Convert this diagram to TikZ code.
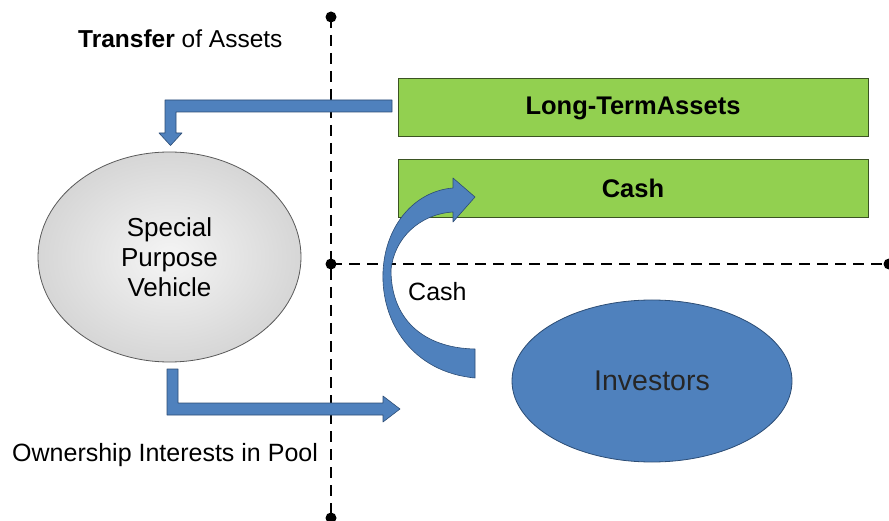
\documentclass[tikz,border=0pt]{standalone}
\usepackage{fontspec}
\setmainfont{Liberation Sans}
\usetikzlibrary{shapes.geometric}
\definecolor{boxgreen}{HTML}{92D050}
\definecolor{boxedge}{HTML}{3B5323}
\definecolor{arrblue}{HTML}{4F81BD}
\definecolor{arredge}{HTML}{2C4D75}
\definecolor{spvgray}{HTML}{D6D6D6}
\tikzset{
  greenbox/.style={draw=boxedge, line width=1pt, fill=boxgreen, minimum width=470pt, minimum height=58pt, inner sep=0pt, font=\fontsize{25.5}{30}\selectfont\bfseries},
  blockarrow/.style={fill=arrblue, draw=arredge, line width=0.6pt, line join=round},
  divider/.style={line width=2.4pt, dash pattern=on 11pt off 7pt},
  dotmark/.style={fill=black, draw=none},
  lbl/.style={font=\fontsize{25}{30}\selectfont, inner sep=0pt},
}
\begin{document}
\begin{tikzpicture}[x=1pt,y=-1pt]
\useasboundingbox (0,0) rectangle (889,521);
% dividers
\coordinate (vtop) at (331,17);
\coordinate (vbot) at (331,518);
\coordinate (hmid) at (331,264);
\coordinate (hright) at (889,264);
\draw[divider] (vtop) -- (vbot);
\draw[divider] (hmid) -- (hright);
\fill[dotmark] (vtop) circle (5.5);
\fill[dotmark] (vbot) circle (5.5);
\fill[dotmark] (hmid) circle (5.5);
\fill[dotmark] (hright) circle (5.5);
% green boxes
\node[greenbox] (lta) at (633,108) {Long-TermAssets};
\node[greenbox] (cashbox) at (633,188.5) {Cash};
% ellipses
\node[ellipse, draw=black!65, line width=0.8pt, shading=radial, inner color=gray!8, outer color=spvgray,
      minimum width=263pt, minimum height=210pt, inner sep=0pt, align=center,
      font=\fontsize{26}{30}\selectfont] (spv) at (169.5,257) {Special\\Purpose\\Vehicle};
\node[ellipse, draw=arredge, line width=0.8pt, fill=arrblue, minimum width=280pt, minimum height=162pt,
      inner sep=0pt, font=\fontsize{28.5}{33}\selectfont, text=black!85] (inv) at (652,381) {Investors};
% labels
\node[lbl, anchor=west] (title) at (78,39) {\fontsize{24.5}{29}\selectfont\textbf{Transfer} of Assets};
\node[lbl, anchor=west] (own) at (12,455) {Ownership Interests in Pool};
\node[lbl, anchor=west] (cashlbl) at (408,292) {Cash};
% arrow: long-term assets -> SPV
\draw[blockarrow] (392,100) coordinate (a1s)
  -- (165,100) -- (165,133) -- (159,133) -- (170.5,145.5) -- (182,133) -- (176,133) -- (176,112) -- (392,112) -- cycle;
% arrow: SPV -> investors
\draw[blockarrow] (167,369) -- (167,415) -- (383,415) -- (383,422) -- (400,409) -- (383,396) -- (383,403) -- (178,403) -- (178,369) -- cycle;
% curved arrow: investors -> cash
\draw[blockarrow] (475,378) .. controls (412,372) and (381,322) .. (383,272)
  .. controls (385,225) and (415,191) .. (453,188) -- (453,178) -- (475,197) -- (453,222) -- (453,212)
  .. controls (420,214) and (394,238) .. (391,270)
  .. controls (391,318) and (422,348) .. (475,349) -- cycle;
\end{tikzpicture}
\end{document}
